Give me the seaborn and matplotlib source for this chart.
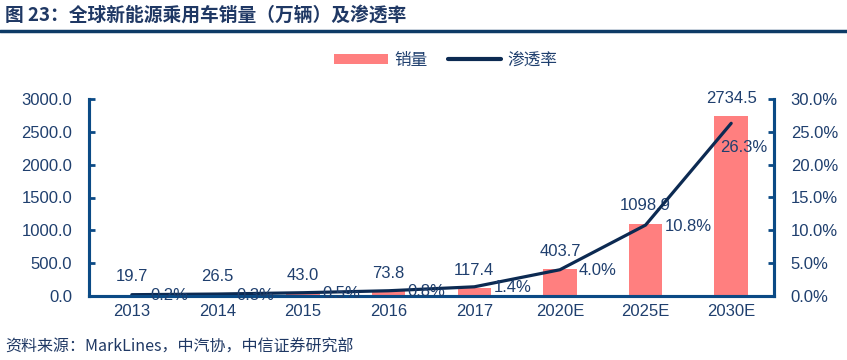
import numpy as np
import matplotlib
matplotlib.use("Agg")
import matplotlib.pyplot as plt
import seaborn as sns
from matplotlib.patches import Patch
from matplotlib.lines import Line2D
from matplotlib.ticker import FuncFormatter

years = ["2013", "2014", "2015", "2016", "2017", "2020E", "2025E", "2030E"]
sales = [19.7, 26.5, 43.0, 73.8, 117.4, 403.7, 1098.9, 2734.5]
penetration = [0.002, 0.003, 0.005, 0.008, 0.014, 0.040, 0.108, 0.263]

bar_color = "#FF7F7F"
line_color = "#0C2A52"
spine_color = "#0B4A85"
text_color = "#1F3F6E"

sns.set_style("white")
plt.rcParams["font.family"] = ["Liberation Sans", "Noto Sans CJK SC", "DejaVu Sans"]

fig = plt.figure(figsize=(8.47, 3.6), dpi=100)
ax = fig.add_axes([89 / 847, 1 - 296 / 360, 685 / 847, 197 / 360])

sns.barplot(x=years, y=sales, ax=ax, color=bar_color, width=0.39,
            saturation=1, edgecolor="none")
ax.set_ylim(0, 3000)
ax.set_xlim(-0.5, len(years) - 0.5)

ax2 = ax.twinx()
sns.lineplot(x=np.arange(len(years)), y=penetration, ax=ax2,
             color=line_color, linewidth=2.3)
ax2.set_ylim(0, 0.30)

# bar labels
for i, v in enumerate(sales):
    ax.annotate(f"{v:.1f}", (i, v), xytext=(0, 18), textcoords="offset pixels",
                ha="center", va="center", fontsize=12, color=text_color)

# rate labels
for i, r in enumerate(penetration):
    if i == len(penetration) - 1:
        off = (-11, -24)
    else:
        off = (19, -1)
    ax2.annotate(f"{r * 100:.1f}%", (i, r), xytext=off, textcoords="offset pixels",
                 ha="left", va="center", fontsize=12, color=text_color)

ax.set_yticks(np.arange(0, 3001, 500))
ax.yaxis.set_major_formatter(FuncFormatter(lambda v, p: f"{v:.1f}"))
ax2.set_yticks(np.arange(0, 0.301, 0.05))
ax2.yaxis.set_major_formatter(FuncFormatter(lambda v, p: f"{v * 100:.1f}%"))

for a in (ax, ax2):
    for s in a.spines.values():
        s.set_color(spine_color)
        s.set_linewidth(2.2)
    a.spines["top"].set_visible(False)
    a.set_ylabel("")
    a.set_xlabel("")
    a.grid(False)

ax.tick_params(axis="y", direction="in", length=4, width=2, color=spine_color,
               pad=12, labelsize=12, labelcolor=text_color)
ax.tick_params(axis="x", length=0, pad=6, labelsize=12, labelcolor=text_color)
ax2.tick_params(axis="y", direction="in", length=4, width=2, color=spine_color,
                pad=12, labelsize=12, labelcolor=text_color)

handles = [Patch(facecolor=bar_color, edgecolor="none", label="销量"),
           Line2D([0], [0], color=line_color, linewidth=3, label="渗透率")]
fig.legend(handles=handles, loc="center", bbox_to_anchor=(446 / 847, 1 - 60 / 360),
           ncol=2, frameon=False, fontsize=12, handlelength=3.2, handleheight=0.6,
           columnspacing=1.2, handletextpad=0.4, labelcolor=text_color)

fig.text(5 / 847, 1 - 15 / 360, "图 23：全球新能源乘用车销量（万辆）及渗透率",
         fontsize=13.5, fontweight="bold", color="#1F3864", va="center", ha="left",
         family=["Noto Sans CJK SC", "DejaVu Sans"])
fig.add_artist(Line2D([0, 1], [1 - 31 / 360, 1 - 31 / 360], transform=fig.transFigure,
                      color="#0D3A66", linewidth=2.5))
fig.text(5 / 847, 1 - 347 / 360, "资料来源：MarkLines，中汽协，中信证券研究部",
         fontsize=11.5, color="#1F3864", va="center", ha="left",
         family=["Noto Sans CJK SC", "DejaVu Sans"])

fig.savefig("out.png", dpi=100)
